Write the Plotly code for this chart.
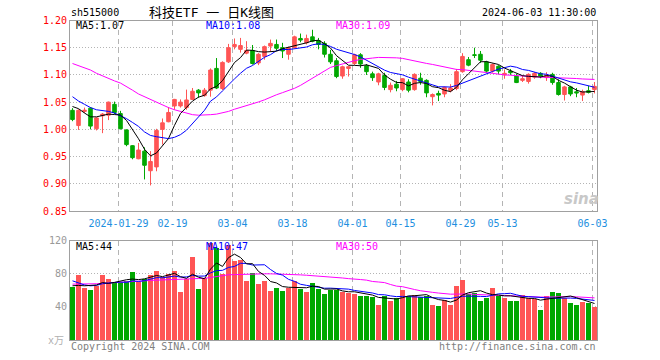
import math
import numpy as np
import pandas as pd
import plotly.graph_objects as go

# ---------------- data ----------------
holidays = ["2024-02-09", "2024-02-12", "2024-02-13", "2024-02-14", "2024-02-15", "2024-02-16",
            "2024-04-04", "2024-04-05", "2024-05-01", "2024-05-02", "2024-05-03"]
dates = [d for d in pd.bdate_range("2024-01-17", "2024-06-03") if d.strftime("%Y-%m-%d") not in holidays]

opens = [1.035, 1.007, 1.033, 1.039, 1.001, 1.025, 1.026, 1.046, 1.029, 0.999,
         0.970, 0.946, 0.960, 0.924, 0.931, 1.000, 1.014, 1.043, 1.043, 1.040,
         1.055, 1.072, 1.062, 1.072, 1.112, 1.075, 1.124, 1.152, 1.147, 1.140,
         1.145, 1.122, 1.134, 1.153, 1.156, 1.150, 1.138, 1.150, 1.167, 1.159,
         1.170, 1.163, 1.158, 1.138, 1.126, 1.098, 1.112, 1.121, 1.137, 1.117,
         1.102, 1.087, 1.099, 1.073, 1.083, 1.073, 1.087, 1.073, 1.094, 1.090,
         1.060, 1.066, 1.065, 1.071, 1.075, 1.106, 1.128, 1.137, 1.138, 1.124,
         1.107, 1.116, 1.100, 1.107, 1.098, 1.090, 1.088, 1.096, 1.103, 1.095,
         1.101, 1.086, 1.064, 1.078, 1.069, 1.063, 1.071, 1.073]
highs = [1.039, 1.037, 1.040, 1.041, 1.022, 1.030, 1.051, 1.051, 1.034, 1.000,
         0.971, 0.975, 0.967, 0.960, 1.001, 1.020, 1.041, 1.056, 1.055, 1.073,
         1.076, 1.074, 1.076, 1.112, 1.131, 1.125, 1.157, 1.167, 1.168, 1.162,
         1.155, 1.140, 1.154, 1.165, 1.165, 1.159, 1.152, 1.172, 1.176, 1.174,
         1.183, 1.168, 1.162, 1.146, 1.131, 1.117, 1.116, 1.139, 1.140, 1.120,
         1.106, 1.104, 1.104, 1.086, 1.089, 1.094, 1.092, 1.103, 1.104, 1.092,
         1.066, 1.071, 1.079, 1.083, 1.111, 1.140, 1.133, 1.150, 1.144, 1.126,
         1.121, 1.118, 1.110, 1.111, 1.102, 1.100, 1.103, 1.105, 1.105, 1.105,
         1.104, 1.092, 1.080, 1.080, 1.076, 1.073, 1.080, 1.087]
lows = [1.015, 0.999, 1.030, 1.000, 0.998, 0.993, 1.017, 1.028, 1.000, 0.969,
        0.945, 0.945, 0.908, 0.897, 0.923, 0.972, 1.013, 1.036, 1.040, 1.036,
        1.054, 1.058, 1.060, 1.060, 1.074, 1.072, 1.122, 1.147, 1.141, 1.138,
        1.119, 1.118, 1.128, 1.144, 1.144, 1.131, 1.128, 1.148, 1.160, 1.156,
        1.160, 1.147, 1.132, 1.120, 1.094, 1.093, 1.097, 1.118, 1.113, 1.100,
        1.089, 1.081, 1.072, 1.068, 1.070, 1.070, 1.068, 1.071, 1.082, 1.059,
        1.044, 1.052, 1.059, 1.068, 1.072, 1.104, 1.116, 1.131, 1.122, 1.104,
        1.104, 1.101, 1.093, 1.100, 1.085, 1.087, 1.084, 1.093, 1.094, 1.089,
        1.082, 1.062, 1.053, 1.061, 1.059, 1.052, 1.066, 1.066]
closes = [1.018, 1.035, 1.035, 1.006, 1.021, 1.028, 1.050, 1.031, 1.001, 0.972,
          0.948, 0.962, 0.934, 0.941, 0.998, 1.012, 1.031, 1.055, 1.050, 1.054,
          1.070, 1.067, 1.072, 1.109, 1.076, 1.123, 1.150, 1.156, 1.154, 1.145,
          1.121, 1.138, 1.152, 1.158, 1.149, 1.144, 1.150, 1.170, 1.164, 1.167,
          1.162, 1.156, 1.138, 1.124, 1.097, 1.115, 1.115, 1.137, 1.120, 1.106,
          1.095, 1.102, 1.077, 1.081, 1.076, 1.093, 1.072, 1.101, 1.088, 1.067,
          1.064, 1.063, 1.077, 1.076, 1.106, 1.134, 1.118, 1.136, 1.127, 1.107,
          1.119, 1.107, 1.103, 1.104, 1.086, 1.093, 1.101, 1.103, 1.098, 1.099,
          1.086, 1.064, 1.078, 1.065, 1.067, 1.069, 1.068, 1.079]
volumes = [64.2, 78.8, 63.0, 61.0, 65.4, 78.8, 73.9, 69.0, 70.5, 72.0,
           82.8, 70.7, 73.5, 78.8, 84.0, 76.0, 80.0, 84.0, 58.6, 74.0,
           101.0, 61.8, 74.7, 117.0, 111.0, 80.0, 115.0, 95.7, 97.0, 72.0,
           81.6, 67.9, 72.0, 59.8, 63.4, 59.8, 63.8, 71.5, 61.8, 58.6,
           69.5, 61.8, 55.8, 60.6, 60.6, 57.8, 56.6, 55.8, 53.3, 53.3,
           52.5, 42.4, 53.7, 47.3, 51.7, 60.6, 53.3, 54.5, 52.5, 53.3,
           42.6, 41.4, 49.3, 42.6, 65.4, 72.7, 55.8, 56.6, 47.3, 51.3,
           63.0, 53.7, 51.3, 47.5, 47.3, 54.5, 51.3, 50.5, 37.2, 53.3,
           58.6, 56.6, 51.7, 45.5, 43.0, 46.5, 45.0, 40.5]

# moving-average values before the window is complete
ma5_head = [1.042, 1.038, 1.030, 1.023]
ma10_head = [1.060, 1.052, 1.046, 1.040, 1.036, 1.035, 1.033, 1.030, 1.025]
ma30_head = [1.121, 1.117, 1.113, 1.109, 1.103, 1.098, 1.093, 1.089, 1.085, 1.079,
             1.072, 1.065, 1.060, 1.055, 1.049, 1.044, 1.040, 1.036, 1.033, 1.029,
             1.027, 1.026, 1.026, 1.027, 1.028, 1.030, 1.033, 1.037, 1.040]
vma5_head = [65.5, 66.0, 65.5, 66.0]
vma10_head = [71.5, 69.0, 66.5, 65.5, 66.0, 68.0, 69.0, 69.5, 70.0]
vma30_head = [67.5, 67.5, 67.7, 67.8, 68.0, 68.5, 68.8, 69.2, 69.6, 70.0,
              70.5, 71.0, 71.5, 72.0, 72.4, 72.8, 73.2, 73.5, 73.7, 74.0,
              74.2, 74.3, 74.5, 75.5, 76.5, 78.0, 78.8, 79.0, 79.3]

tick_dates = ["2024-01-29", "2024-02-19", "2024-03-04", "2024-03-18", "2024-04-01",
              "2024-04-15", "2024-04-29", "2024-05-13", "2024-06-03"]
tick_labels = ["2024-01-29", "02-19", "03-04", "03-18", "04-01", "04-15", "04-29", "05-13", "06-03"]
price_ticks = [0.85, 0.90, 0.95, 1.00, 1.05, 1.10, 1.15, 1.20]
vol_ticks = [40, 80, 120]


def moving(values, n, head):
    out = pd.Series(values, dtype=float).rolling(n).mean().to_numpy()
    out[:n - 1] = head
    return out


ma5 = moving(closes, 5, ma5_head)
ma10 = moving(closes, 10, ma10_head)
ma30 = moving(closes, 30, ma30_head)
vma5 = moving(volumes, 5, vma5_head)
vma10 = moving(volumes, 10, vma10_head)
vma30 = moving(volumes, 30, vma30_head)

# ---------------- styling ----------------
W, H = 660, 360
X0, X1 = 70, 597
MAIN_T, MAIN_B = 20.5, 211
VOL_T, VOL_B = 240.7, 340
RED = "#ff5555"
GREEN = "#00a800"
FRAME = "#a0a0a0"
GRID = "#b4b4b4"
MONO = "DejaVu Sans Mono"

idx = np.arange(len(dates))
date_str = [d.strftime("%Y-%m-%d") for d in dates]
tick_pos = [date_str.index(t) - 0.33 for t in tick_dates]
up = [c >= o for o, c in zip(opens, closes)]
vol_colors = [RED if u else GREEN for u in up]

fig = go.Figure()
fig.add_trace(go.Candlestick(
    x=idx, open=opens, high=highs, low=lows, close=closes,
    increasing=dict(line=dict(color=RED, width=1), fillcolor=RED),
    decreasing=dict(line=dict(color=GREEN, width=1), fillcolor=GREEN),
    whiskerwidth=0, xaxis="x", yaxis="y", hoverinfo="skip"))
for arr, col in [(ma30, "#ff00ff"), (ma10, "#0000ff"), (ma5, "#000000")]:
    fig.add_trace(go.Scatter(x=idx, y=arr, mode="lines", line=dict(color=col, width=1),
                             xaxis="x", yaxis="y", hoverinfo="skip"))

fig.add_trace(go.Bar(x=idx, y=volumes, marker=dict(color=vol_colors, line=dict(width=0)),
                     width=0.83, xaxis="x2", yaxis="y2", hoverinfo="skip"))
for arr, col in [(vma30, "#ff00ff"), (vma10, "#0000ff"), (vma5, "#000000")]:
    fig.add_trace(go.Scatter(x=idx, y=arr, mode="lines", line=dict(color=col, width=1),
                             xaxis="x2", yaxis="y2", hoverinfo="skip"))

xrange = [-(72.5 - X0) / 6.0, (X1 - 72.5) / 6.0]
xdom = [X0 / W, X1 / W]
common_x = dict(domain=xdom, range=xrange, tickvals=tick_pos, showgrid=True,
                gridcolor=GRID, griddash="5px,4px", gridwidth=1, zeroline=False,
                showline=True, mirror=True, linecolor=FRAME, linewidth=1, ticks="",
                fixedrange=True, automargin=False)

fig.update_layout(
    width=W, height=H, margin=dict(l=0, r=0, t=0, b=0, pad=0, autoexpand=False),
    paper_bgcolor="white", plot_bgcolor="white", showlegend=False,
    boxgap=0.15, bargap=0,
    xaxis=dict(**common_x, anchor="y", ticktext=tick_labels, showticklabels=True,
               tickfont=dict(family=MONO, size=10, color="#1e8fe0"),
               ticklabelstandoff=3, rangeslider=dict(visible=False)),
    xaxis2=dict(**common_x, anchor="y2", showticklabels=False),
    yaxis=dict(domain=[1 - MAIN_B / H, 1 - MAIN_T / H], range=[0.85, 1.20],
               tickvals=price_ticks, ticktext=[f"{v:.2f}" for v in price_ticks],
               tickfont=dict(family=MONO, size=10, color="#ff0000"),
               showgrid=True, gridcolor=GRID, griddash="1px,2px", zeroline=False,
               showline=True, mirror=True, linecolor=FRAME, linewidth=1, ticks="",
               anchor="x", fixedrange=True, automargin=False),
    yaxis2=dict(domain=[1 - VOL_B / H, 1 - VOL_T / H], range=[0, 120],
                tickvals=vol_ticks, ticktext=[str(v) for v in vol_ticks],
                tickfont=dict(family=MONO, size=10, color="#999999"),
                showgrid=True, gridcolor=GRID, griddash="1px,2px", zeroline=False,
                showline=True, mirror=True, linecolor=FRAME, linewidth=1, ticks="",
                anchor="x2", fixedrange=True, automargin=False),
)


def ann(text, px, py, color="#000000", size=10, anchor="left", family=MONO, **kw):
    fig.add_annotation(text=text, x=px / W, y=1 - py / H, xref="paper", yref="paper",
                       xanchor=anchor, yanchor="middle", showarrow=False,
                       font=dict(family=family, size=size, color=color), **kw)


ann("sh515000", 69, 13)
ann("科技ETF 一 日K线图", 211, 12.5, size=13, anchor="center",
    family="DejaVu Sans Mono, Noto Sans CJK SC")
ann("2024-06-03 11:30:00", 598, 13, anchor="right")
ann(f"MA5:{ma5[-1]:.2f}", 74, 26)
ann(f"MA10:{ma10[-1]:.2f}", 204, 26, color="#0000ff")
ann(f"MA30:{ma30[-1]:.2f}", 334, 26, color="#ff00ff")
ann(f"MA5:{math.floor(vma5[-1])}", 74, 246)
ann(f"MA10:{math.floor(vma10[-1])}", 204, 246, color="#0000ff")
ann(f"MA30:{math.floor(vma30[-1])}", 334, 246, color="#ff00ff")
ann("x万", 66, 340, color="#b0b0b0", anchor="right", family="DejaVu Sans Mono, Noto Sans CJK SC")
ann("Copyright 2024 SINA.COM", 69, 346, color="#808080")
ann("http://finance.sina.com.cn", 598, 346, color="#808080", anchor="right")
ann("<b><i>sina</i></b>", 581, 199, color="#c8c8c8", size=15, anchor="center", family="DejaVu Sans")

fig.write_html("out.html", config={"displayModeBar": False},
               post_script="document.body.style.margin='0';document.body.style.overflow='hidden';")
